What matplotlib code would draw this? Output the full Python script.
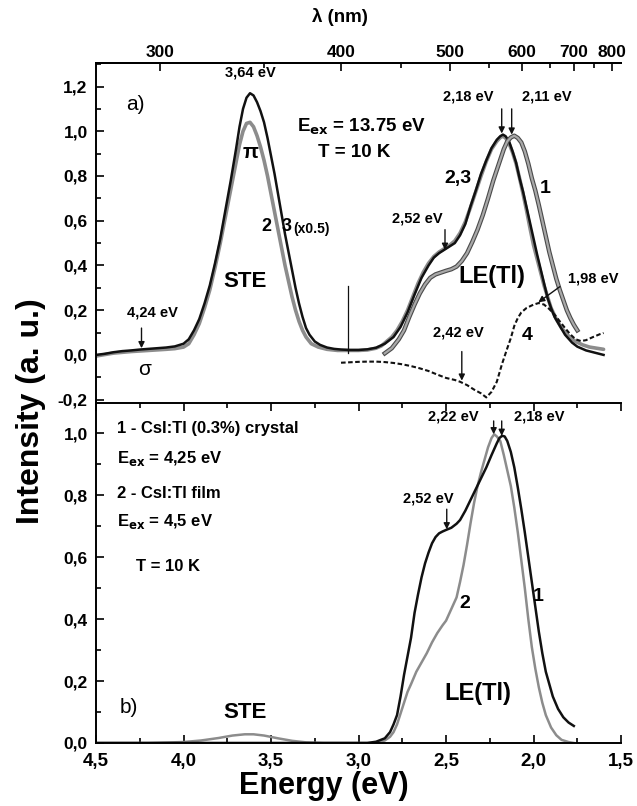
import numpy as np
import matplotlib
matplotlib.use("Agg")
import matplotlib.pyplot as plt
from matplotlib.ticker import MultipleLocator, FuncFormatter, FixedLocator
import matplotlib.patheffects as pe

plt.rcParams['font.family'] = ['Liberation Sans', 'DejaVu Sans']
plt.rcParams['font.weight'] = 'bold'

# ---------------- Panel a data ----------------
# curve 3 (x0.5), black
a3_E = [4.50, 4.45, 4.40, 4.35, 4.30, 4.25, 4.20, 4.15, 4.10, 4.05, 4.00, 3.97, 3.94, 3.91, 3.88,
        3.85, 3.82, 3.79, 3.76, 3.73, 3.70, 3.68, 3.66, 3.64, 3.62, 3.60, 3.58, 3.56, 3.54, 3.52,
        3.50, 3.48, 3.46, 3.44, 3.42, 3.40, 3.38, 3.36, 3.34, 3.32, 3.30, 3.28, 3.25, 3.22, 3.18,
        3.14, 3.10, 3.05, 3.00, 2.95, 2.90, 2.85, 2.80, 2.76, 2.72, 2.68, 2.64, 2.60, 2.57, 2.54,
        2.51, 2.48, 2.45, 2.42, 2.39, 2.36, 2.33, 2.30, 2.27, 2.24, 2.21, 2.19, 2.175, 2.16, 2.14,
        2.12, 2.10, 2.08, 2.06, 2.04, 2.02, 2.00, 1.98, 1.96, 1.94, 1.92, 1.90, 1.88, 1.85, 1.82,
        1.78, 1.75, 1.70, 1.65, 1.60]
a3_I = [0.000, 0.005, 0.012, 0.017, 0.020, 0.024, 0.027, 0.030, 0.033, 0.038, 0.050, 0.070, 0.110, 0.160, 0.230,
        0.310, 0.410, 0.520, 0.650, 0.780, 0.920, 1.020, 1.100, 1.150, 1.170, 1.160, 1.130, 1.090, 1.040, 0.970,
        0.890, 0.810, 0.720, 0.630, 0.540, 0.460, 0.380, 0.300, 0.230, 0.170, 0.120, 0.090, 0.060, 0.045, 0.033,
        0.027, 0.024, 0.022, 0.022, 0.025, 0.032, 0.050, 0.080, 0.125, 0.190, 0.270, 0.345, 0.400, 0.435, 0.455,
        0.470, 0.485, 0.500, 0.535, 0.585, 0.665, 0.735, 0.810, 0.870, 0.925, 0.962, 0.978, 0.985, 0.978, 0.955,
        0.910, 0.860, 0.790, 0.730, 0.660, 0.590, 0.520, 0.450, 0.385, 0.320, 0.255, 0.210, 0.170, 0.130, 0.090,
        0.055, 0.037, 0.020, 0.010, 0.000]

# curve 2, gray
a2_E = [4.50, 4.40, 4.30, 4.20, 4.10, 4.05, 4.00, 3.97, 3.94, 3.91, 3.88, 3.85, 3.82, 3.79, 3.76,
        3.73, 3.70, 3.68, 3.66, 3.64, 3.62, 3.60, 3.58, 3.56, 3.54, 3.52, 3.50, 3.48, 3.46, 3.44,
        3.42, 3.40, 3.38, 3.36, 3.34, 3.32, 3.30, 3.27, 3.23, 3.18, 3.12, 3.06, 3.00, 2.95, 2.90,
        2.87, 2.84, 2.81, 2.78, 2.75, 2.72, 2.69, 2.66, 2.63, 2.60, 2.57, 2.54, 2.51, 2.48, 2.45,
        2.42, 2.39, 2.36, 2.33, 2.30, 2.27, 2.24, 2.21, 2.19, 2.175, 2.16, 2.14, 2.12, 2.10, 2.08,
        2.06, 2.04, 2.02, 2.00, 1.98, 1.96, 1.94, 1.92, 1.90, 1.87, 1.84, 1.80, 1.76, 1.72, 1.68,
        1.64, 1.60]
a2_I = [-0.005, 0.008, 0.015, 0.020, 0.025, 0.028, 0.035, 0.050, 0.090, 0.140, 0.210, 0.290, 0.390, 0.500, 0.620,
        0.740, 0.860, 0.940, 1.000, 1.035, 1.040, 1.020, 0.980, 0.930, 0.870, 0.800, 0.720, 0.640, 0.560, 0.480,
        0.400, 0.330, 0.260, 0.200, 0.150, 0.110, 0.080, 0.050, 0.035, 0.025, 0.020, 0.020, 0.020, 0.022, 0.030,
        0.040, 0.060, 0.080, 0.110, 0.150, 0.200, 0.260, 0.320, 0.370, 0.410, 0.440, 0.460, 0.475, 0.490, 0.510,
        0.545, 0.595, 0.660, 0.730, 0.800, 0.865, 0.920, 0.955, 0.972, 0.978, 0.970, 0.945, 0.905, 0.855, 0.790,
        0.720, 0.645, 0.565, 0.490, 0.430, 0.370, 0.310, 0.260, 0.210, 0.160, 0.120, 0.085, 0.060, 0.045, 0.035,
        0.030, 0.025]

# curve 1 (crystal), LE region only
a1_E = [2.85, 2.81, 2.77, 2.74, 2.71, 2.68, 2.65, 2.62, 2.59, 2.56, 2.53, 2.50, 2.47, 2.44, 2.41,
        2.38, 2.35, 2.32, 2.29, 2.26, 2.23, 2.20, 2.17, 2.15, 2.13, 2.11, 2.09, 2.07, 2.05, 2.03,
        2.01, 1.99, 1.97, 1.95, 1.93, 1.91, 1.89, 1.87, 1.85, 1.83, 1.81, 1.79, 1.77, 1.75]
a1_I = [0.007, 0.030, 0.070, 0.110, 0.170, 0.225, 0.275, 0.315, 0.345, 0.360, 0.368, 0.376, 0.383, 0.395, 0.420,
        0.455, 0.505, 0.560, 0.625, 0.700, 0.780, 0.850, 0.920, 0.955, 0.972, 0.980, 0.970, 0.950, 0.910, 0.855,
        0.790, 0.735, 0.670, 0.600, 0.530, 0.460, 0.400, 0.340, 0.290, 0.245, 0.200, 0.165, 0.135, 0.110]

# curve 4, dashed
a4_E = [3.10, 3.05, 3.00, 2.95, 2.90, 2.85, 2.80, 2.75, 2.70, 2.65, 2.60, 2.55, 2.50, 2.45, 2.42,
        2.38, 2.34, 2.30, 2.27, 2.24, 2.21, 2.18, 2.15, 2.13, 2.11, 2.09, 2.07, 2.04, 2.00, 1.97,
        1.94, 1.91, 1.88, 1.85, 1.82, 1.79, 1.76, 1.73, 1.70, 1.66, 1.62, 1.60]
a4_I = [-0.035, -0.033, -0.031, -0.030, -0.030, -0.032, -0.036, -0.042, -0.050, -0.060, -0.072, -0.088, -0.103, -0.112, -0.120,
        -0.135, -0.155, -0.172, -0.190, -0.165, -0.120, -0.040, 0.030, 0.075, 0.130, 0.165, 0.190, 0.210, 0.225, 0.232,
        0.225, 0.205, 0.180, 0.150, 0.120, 0.092, 0.070, 0.062, 0.066, 0.080, 0.093, 0.098]

# ---------------- Panel b data ----------------
b1_E = [4.50, 3.50, 2.95, 2.90, 2.85, 2.82, 2.80, 2.78, 2.76, 2.74, 2.72, 2.70, 2.68, 2.66, 2.64,
        2.62, 2.60, 2.58, 2.56, 2.54, 2.52, 2.50, 2.47, 2.44, 2.42, 2.39, 2.36, 2.33, 2.30, 2.27,
        2.24, 2.21, 2.195, 2.18, 2.165, 2.15, 2.13, 2.11, 2.09, 2.07, 2.05, 2.03, 2.01, 1.99, 1.97,
        1.95, 1.93, 1.91, 1.89, 1.86, 1.83, 1.80, 1.77]
b1_I = [0.000, 0.000, 0.000, 0.004, 0.015, 0.035, 0.060, 0.090, 0.150, 0.220, 0.280, 0.340, 0.420, 0.480, 0.535,
        0.580, 0.615, 0.645, 0.665, 0.677, 0.683, 0.688, 0.695, 0.708, 0.720, 0.750, 0.785, 0.820, 0.855, 0.890,
        0.930, 0.968, 0.985, 0.992, 0.990, 0.975, 0.940, 0.890, 0.825, 0.755, 0.680, 0.600, 0.520, 0.440, 0.360,
        0.290, 0.230, 0.190, 0.150, 0.110, 0.083, 0.066, 0.055]

b2_E = [4.50, 4.20, 4.00, 3.90, 3.80, 3.72, 3.65, 3.60, 3.54, 3.46, 3.38, 3.30, 3.20, 2.90, 2.85,
        2.82, 2.80, 2.78, 2.76, 2.74, 2.72, 2.70, 2.67, 2.64, 2.61, 2.58, 2.55, 2.52, 2.50, 2.48,
        2.46, 2.44, 2.42, 2.40, 2.38, 2.36, 2.34, 2.32, 2.30, 2.28, 2.26, 2.24, 2.225, 2.21, 2.19,
        2.17, 2.15, 2.13, 2.11, 2.09, 2.07, 2.05, 2.03, 2.01, 1.99, 1.97, 1.95, 1.93, 1.90, 1.87,
        1.84, 1.80, 1.77]
b2_I = [0.000, 0.000, 0.003, 0.008, 0.016, 0.024, 0.028, 0.028, 0.024, 0.015, 0.007, 0.002, 0.000, 0.000, 0.008,
        0.020, 0.035, 0.060, 0.095, 0.130, 0.165, 0.190, 0.230, 0.260, 0.290, 0.325, 0.355, 0.380, 0.395, 0.420,
        0.445, 0.470, 0.520, 0.575, 0.640, 0.710, 0.775, 0.830, 0.875, 0.915, 0.955, 0.985, 0.997, 0.990, 0.975,
        0.930, 0.880, 0.830, 0.760, 0.680, 0.590, 0.500, 0.400, 0.310, 0.240, 0.180, 0.130, 0.090, 0.050, 0.025,
        0.010, 0.003, 0.000]

lam_ticks = [300, 400, 500, 600, 700, 800]
lam_minor = [350, 450, 550, 650, 750]

BLACK = '#111111'
GRAY = '#8c8c8c'
HC = 1239.84

fig = plt.figure(figsize=(6.37, 8.06), dpi=100)
axa = fig.add_axes([0.1507, 0.5, 0.8243, 0.4218])
axb = fig.add_axes([0.1507, 0.0782, 0.8243, 0.4218])

fmt = FuncFormatter(lambda v, p: f"{v:.1f}".replace('.', ','))

for ax in (axa, axb):
    ax.set_xlim(4.5, 1.5)
    ax.spines['right'].set_visible(False)
    for s in ax.spines.values():
        s.set_linewidth(1.4)
    ax.xaxis.set_major_locator(MultipleLocator(0.5))
    ax.xaxis.set_minor_locator(MultipleLocator(0.25))
    ax.yaxis.set_major_locator(MultipleLocator(0.2))
    ax.yaxis.set_minor_locator(MultipleLocator(0.1))
    ax.yaxis.set_major_formatter(fmt)
    ax.tick_params(which='both', direction='in', width=1.2, labelsize=12.5, right=False)
    ax.tick_params(axis='y', pad=6)
    ax.tick_params(which='major', length=6)
    ax.tick_params(which='minor', length=3.5)
    for lab in ax.get_yticklabels():
        lab.set_fontweight('bold')

# ---- panel a ----
axa.set_ylim(-0.215, 1.305)
axa.spines['bottom'].set_visible(False)
axa.tick_params(axis='x', which='both', bottom=False, labelbottom=False, top=False)

axa.plot(a2_E, a2_I, color=GRAY, lw=2.6, solid_capstyle='round')
axa.plot(a3_E, a3_I, color=BLACK, lw=1.8)
axa.plot(a1_E, a1_I, color='#a8a8a8', lw=1.6,
         path_effects=[pe.Stroke(linewidth=3.2, foreground='#4a4a4a'), pe.Normal()])
axa.plot(a4_E, a4_I, color=BLACK, lw=1.5, linestyle=(0, (2.2, 1.2)))
axa.plot([3.06, 3.06], [0.01, 0.31], color=BLACK, lw=0.9)

def e2l(x):
    x = np.asarray(x, dtype=float)
    with np.errstate(divide='ignore', invalid='ignore'):
        return HC / x

sec = axa.secondary_xaxis('top', functions=(e2l, e2l))
sec.xaxis.set_major_locator(FixedLocator(lam_ticks))
sec.xaxis.set_minor_locator(FixedLocator(lam_minor))
sec.tick_params(which='both', direction='in', width=1.2, labelsize=12.5, pad=2)
sec.tick_params(which='major', length=6)
sec.tick_params(which='minor', length=3.5)
sec.spines['top'].set_linewidth(1.4)
fig.text(340 / 637, 1 - 17 / 806, 'λ (nm)', fontsize=13.5, fontweight='bold', ha='center', va='center')

def arrow(ax, x, y0, y1):
    ax.annotate('', xy=(x, y1), xytext=(x, y0),
                arrowprops=dict(arrowstyle='-|>', color=BLACK, lw=1.0, mutation_scale=9,
                                shrinkA=0, shrinkB=0))

axa.text(4.33, 1.12, 'a)', fontsize=15, fontweight='normal', ha='left', va='center')
axa.text(3.62, 1.262, '3,64 eV', fontsize=10.5, ha='center', va='center')
axa.text(3.35, 1.02, r'E$_{\mathbf{ex}}$ = 13.75 eV', fontsize=13.5, ha='left', va='center')
axa.text(3.23, 0.905, 'T = 10 K', fontsize=13.5, ha='left', va='center')
axa.text(3.615, 0.905, 'π', fontsize=15, ha='center', va='center')
axa.text(3.525, 0.574, '2', fontsize=13, ha='center', va='center')
axa.text(3.44, 0.574, '3', fontsize=13, ha='left', va='center')
axa.text(3.375, 0.565, '(x0.5)', fontsize=10, ha='left', va='center')
axa.text(3.65, 0.328, 'STE', fontsize=16, ha='center', va='center')
axa.text(4.18, 0.19, '4,24 eV', fontsize=10.5, ha='center', va='center')
arrow(axa, 4.24, 0.12, 0.03)
axa.text(4.22, -0.065, 'σ', fontsize=15, fontweight='normal', ha='center', va='center')
axa.text(2.374, 1.155, '2,18 eV', fontsize=10.5, ha='center', va='center')
axa.text(1.925, 1.155, '2,11 eV', fontsize=10.5, ha='center', va='center')
arrow(axa, 2.182, 1.10, 0.99)
arrow(axa, 2.125, 1.10, 0.985)
axa.text(2.43, 0.79, '2,3', fontsize=14, ha='center', va='center')
axa.text(1.934, 0.745, '1', fontsize=14, ha='center', va='center')
axa.text(2.667, 0.611, '2,52 eV', fontsize=10.5, ha='center', va='center')
arrow(axa, 2.506, 0.56, 0.47)
axa.text(2.24, 0.35, 'LE(Tl)', fontsize=17, ha='center', va='center')
axa.text(1.66, 0.343, '1,98 eV', fontsize=10.5, ha='center', va='center')
axa.annotate('', xy=(1.973, 0.235), xytext=(1.85, 0.305),
             arrowprops=dict(arrowstyle='-|>', color=BLACK, lw=1.0, mutation_scale=9,
                             shrinkA=0, shrinkB=0))
axa.text(2.43, 0.10, '2,42 eV', fontsize=10.5, ha='center', va='center')
arrow(axa, 2.41, 0.015, -0.115)
axa.text(2.035, 0.085, '4', fontsize=14, ha='center', va='center')

# ---- panel b ----
axb.set_ylim(0, 1.098)
axb.xaxis.set_major_formatter(fmt)
axb.tick_params(axis='x', which='both', top=True, labelsize=13.5, pad=7)
for lab in axb.get_xticklabels():
    lab.set_fontweight('bold')

axb.plot(b2_E, b2_I, color=GRAY, lw=1.8)
axb.plot(b1_E, b1_I, color=BLACK, lw=1.8)

axb.text(4.38, 1.016, '1 - CsI:Tl (0.3%) crystal', fontsize=12, ha='left', va='center')
axb.text(4.38, 0.919, r'E$_{\mathbf{ex}}$ = 4,25 eV', fontsize=12, ha='left', va='center')
axb.text(4.38, 0.806, '2 - CsI:Tl film', fontsize=12, ha='left', va='center')
axb.text(4.38, 0.715, r'E$_{\mathbf{ex}}$ = 4,5 eV', fontsize=12, ha='left', va='center')
axb.text(4.27, 0.569, 'T = 10 K', fontsize=12, ha='left', va='center')
axb.text(4.31, 0.113, 'b)', fontsize=15, fontweight='normal', ha='center', va='center')
axb.text(3.65, 0.10, 'STE', fontsize=16, ha='center', va='center')
axb.text(2.46, 1.054, '2,22 eV', fontsize=10.5, ha='center', va='center')
axb.text(1.97, 1.054, '2,18 eV', fontsize=10.5, ha='center', va='center')
arrow(axb, 2.228, 1.04, 0.997)
arrow(axb, 2.182, 1.04, 0.992)
axb.text(2.60, 0.791, '2,52 eV', fontsize=10.5, ha='center', va='center')
arrow(axb, 2.496, 0.755, 0.69)
axb.text(2.391, 0.451, '2', fontsize=14, ha='center', va='center')
axb.text(1.973, 0.472, '1', fontsize=14, ha='center', va='center')
axb.text(2.317, 0.16, 'LE(Tl)', fontsize=17, ha='center', va='center')

fig.text(324 / 637, 1 - 786 / 806, 'Energy (eV)', fontsize=22, fontweight='bold',
         ha='center', va='center')
fig.text(0.048, 0.49, 'Intensity (a. u.)', rotation=90, fontsize=23, fontweight='bold',
         ha='center', va='center')

fig.savefig('out.png', dpi=100)
